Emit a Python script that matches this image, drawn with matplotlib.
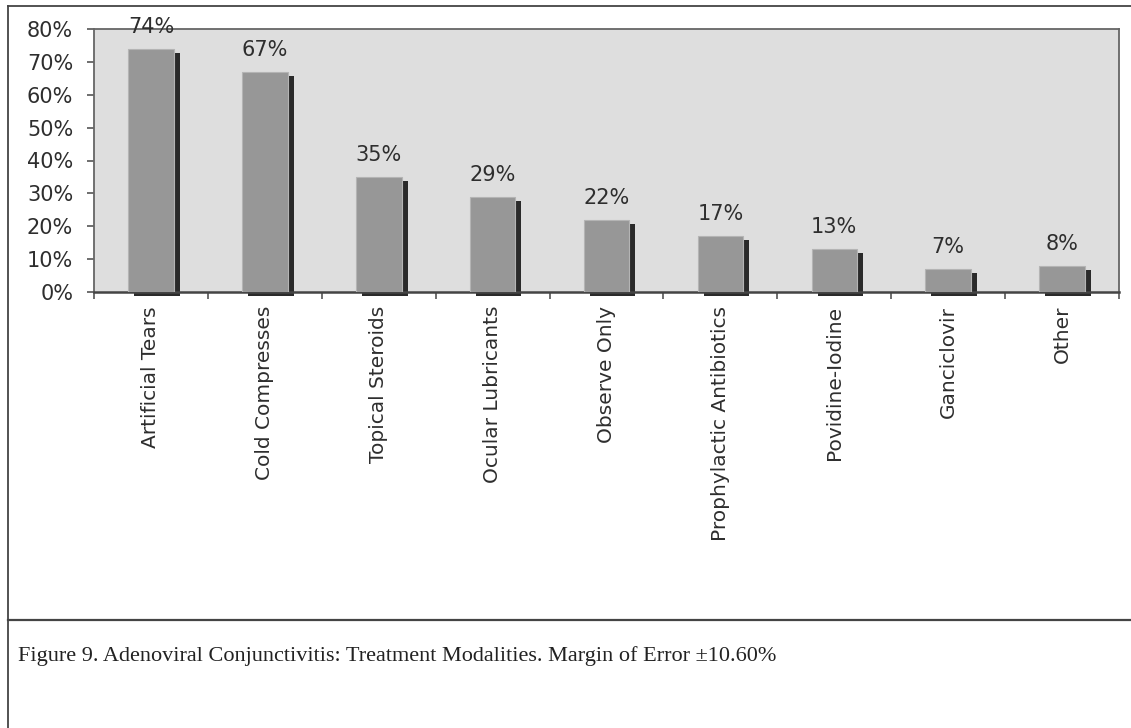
import numpy as np
import matplotlib
matplotlib.use("Agg")
import matplotlib.pyplot as plt
from matplotlib.transforms import ScaledTranslation
from matplotlib.lines import Line2D

categories = ["Artificial Tears", "Cold Compresses", "Topical Steroids",
              "Ocular Lubricants", "Observe Only", "Prophylactic Antibiotics",
              "Povidine-Iodine", "Ganciclovir", "Other"]
values = [74, 67, 35, 29, 22, 17, 13, 7, 8]
yticks = [0, 10, 20, 30, 40, 50, 60, 70, 80]
caption = "Figure 9. Adenoviral Conjunctivitis: Treatment Modalities. Margin of Error \u00b110.60%"

W, H = 1131, 728
fig = plt.figure(figsize=(W / 100, H / 100), dpi=100)
fig.patch.set_facecolor("white")

# plot area in pixels: left 94, right 1119, top 29, bottom 292
ax = fig.add_axes([94 / W, 1 - 292 / H, (1119 - 94) / W, (292 - 29) / H])
ax.set_facecolor("#dedede")

x = np.arange(len(categories))
bw = 0.4

# drop shadow, shifted right and down
shadow = ax.transData + ScaledTranslation(6 / 100, -4 / 100, fig.dpi_scale_trans)
ax.bar(x, values, width=bw, color="#2a2a2a", transform=shadow, clip_on=False, zorder=2)
ax.bar(x, values, width=bw, color="#979797", edgecolor="#b4b4b4", linewidth=0.8, zorder=3)

for xi, v in zip(x, values):
    ax.text(xi, v + 3.6, f"{v}%", ha="center", va="bottom", fontsize=15,
            color="#2e2e2e", zorder=4, clip_on=False)

ax.set_xlim(-0.5, len(categories) - 0.5)
ax.set_ylim(0, 80)
ax.set_yticks(yticks)
ax.set_yticklabels([f"{t}%" for t in yticks], fontsize=15, color="#2e2e2e")

ax.set_xticks(np.arange(len(categories) + 1) - 0.5)
ax.set_xticklabels([])
ax.set_xticks(x, minor=True)
ax.set_xticklabels(categories, minor=True, rotation=90, fontsize=14.5, color="#2e2e2e")
ax.tick_params(axis="x", which="minor", length=0, pad=10)
ax.tick_params(axis="x", which="major", length=5, color="#555555", width=1.2)
ax.tick_params(axis="y", length=5, color="#555555", width=1.2, pad=10)

for s in ax.spines.values():
    s.set_color("#666666")
    s.set_linewidth(1.3)
ax.spines["bottom"].set_color("#444444")
ax.spines["bottom"].set_linewidth(1.8)

# outer frame lines
def hline(y, x0, x1, lw=1.3):
    fig.add_artist(Line2D([x0 / W, x1 / W], [1 - y / H, 1 - y / H], color="#444444", lw=lw))

def vline(xp, y0, y1, lw=1.3):
    fig.add_artist(Line2D([xp / W, xp / W], [1 - y0 / H, 1 - y1 / H], color="#444444", lw=lw))

hline(6, 8, 1131)
hline(620, 8, 1131, lw=1.6)
vline(8, 6, 728)

fig.text(18 / W, 1 - 656 / H, caption, family="Liberation Serif", fontsize=16,
         color="#222222", va="center", ha="left")

fig.savefig("out.png", dpi=100)
